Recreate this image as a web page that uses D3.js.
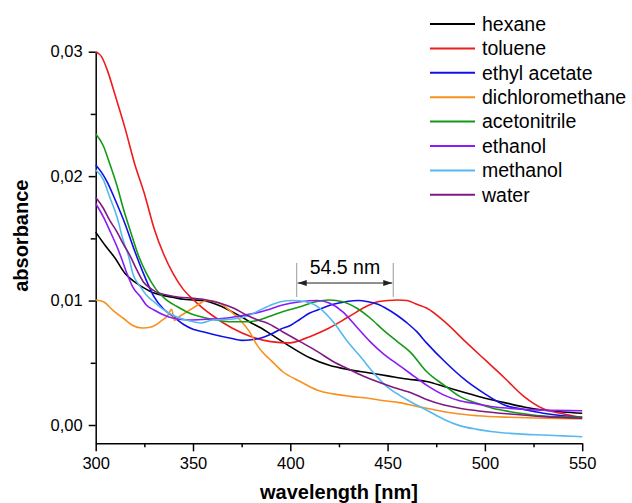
<!DOCTYPE html>
<html lang="en">
<head>
<meta charset="utf-8">
<title>Absorbance spectra</title>
<script src="https://d3js.org/d3.v7.min.js"></script>
<style>
    body {
        margin: 0;
        background: white;
    }

    svg text {
        font-family: "Liberation Sans", Arial, sans-serif;
        fill: black;
    }

    .axis path,
    .axis line {
        stroke: black;
        stroke-width: 1.5;
    }

    .axis text {
        font-size: 16.5px;
    }

    .title {
        font-size: 20px;
        font-weight: bold;
    }
</style>
</head>
<body>
<div id="chart"></div>
<script>
    // absorbance vs wavelength
    var solvents = ["hexane", "toluene", "ethyl acetate", "dichloromethane", "acetonitrile", "ethanol", "methanol", "water"];
    var colors = ["#000000", "#ee1c1c", "#1010e8", "#f7901e", "#159a15", "#8a1cf5", "#55b9ef", "#801a80"];

    var hexane = [[300, .0155], [305, .0144], [310, .0134], [315, .0122], [320, .0115], [325, .0110], [330, .0106],
        [335, .0104], [340, .01025], [345, .0101], [350, .01005], [355, .0100], [360, .0098], [365, .0095], [370, .0091],
        [375, .0087], [380, .0082], [385, .0078], [390, .0073], [400, .0063], [410, .0054], [420, .0048], [430, .00445],
        [440, .0042], [450, .00395], [460, .0037], [470, .0035], [480, .00305], [490, .0026], [500, .00215], [510, .0018],
        [520, .00145], [530, .0012], [540, .00105], [550, .00094]];

    var toluene = [[300, .0300], [303, .0296], [306, .0285], [310, .0265], [315, .0239], [320, .0210], [325, .0186],
        [330, .0158], [335, .0137], [340, .0121], [345, .0109], [350, .0101], [355, .0094], [360, .0088], [370, .0078],
        [380, .0071], [390, .0067], [400, .0066], [405, .0068], [410, .0071], [420, .0078], [430, .0087], [440, .0096],
        [445, .0099], [450, .0100], [455, .01005], [460, .0100], [465, .0097], [470, .0094], [480, .0082], [490, .0067],
        [500, .00525], [510, .0038], [520, .0023], [530, .0013], [540, .0009], [550, .0006]];

    var ethylAcetate = [[300, .0209], [303, .0203], [306, .0195], [310, .0181], [315, .0162], [320, .0140], [325, .0120],
        [330, .0103], [335, .0093], [340, .0087], [345, .0081], [350, .0077], [355, .0075], [360, .0073], [370, .00695],
        [375, .0068], [380, .00685], [385, .0070], [390, .0073], [395, .0077], [400, .0080], [405, .0085], [410, .0090],
        [415, .0093], [420, .0096], [425, .0098], [430, .00995], [435, .0100], [440, .0099], [445, .0097], [450, .0093],
        [455, .0088], [460, .0082], [465, .0075], [470, .0066], [480, .0050], [490, .0036], [500, .0025], [510, .0016],
        [520, .00125], [530, .00095], [540, .00075], [550, .00062]];

    var dichloromethane = [[300, .01005], [304, .0099], [309, .0092], [314, .0086], [319, .0080], [324, .0078],
        [329, .0079], [334, .0084], [337, .0088], [339, .0093], [340.5, .0084], [342, .0086], [347, .0091], [352, .0096],
        [357, .0100], [362, .0099], [369, .0092], [375, .0083], [379, .0075], [383, .0064], [386, .0058], [390, .0052],
        [396, .0043], [405, .0035], [414, .0028], [422, .0025], [431, .0023], [440, .00215], [448, .00195], [456, .0018],
        [465, .0015], [470, .00135], [479, .00107], [487, .00088], [496, .00075], [513, .00062], [530, .00054],
        [550, .00048]];

    var acetonitrile = [[300, .0234], [304, .0224], [307, .0211], [311, .0192], [314, .0175], [318, .0155], [322, .0136],
        [326, .0122], [331, .0109], [336, .0101], [342, .0095], [348, .0090], [355, .00866], [362, .00844], [370, .0083],
        [378, .0083], [384, .00844], [388, .00866], [396, .0091], [405, .0095], [413, .0099], [420, .01005], [427, .0099],
        [434, .0094], [441, .0086], [448, .0076], [455, .0067], [462, .0058], [470, .0043], [479, .0032], [487, .0023],
        [496, .00174], [504, .00134], [513, .00107], [521, .00088], [530, .00072], [550, .00062]];

    var ethanol = [[300, .0178], [304, .0167], [307, .0157], [311, .0143], [313, .0135], [316, .0122], [319, .0111],
        [323, .0103], [326, .00965], [330, .00924], [335, .00884], [340, .00858], [348, .00844], [357, .0085],
        [366, .00858], [374, .00876], [383, .00903], [388, .00924], [396, .00965], [405, .0099], [414, .0100],
        [420, .0098], [427, .0091], [434, .0079], [441, .0067], [448, .0057], [455, .0049], [462, .0041], [470, .0032],
        [479, .0024], [487, .00195], [496, .0017], [504, .00147], [513, .00134], [530, .0012], [550, .00115]];

    var methanol = [[300, .0205], [304, .0197], [307, .0184], [311, .0167], [314, .0149], [317, .0135], [319, .0122],
        [323, .0111], [326, .01045], [330, .0099], [333, .0095], [336.5, .0091], [342, .00866], [348, .00838],
        [354, .0082], [360, .00844], [369, .0085], [378, .00876], [384, .0092], [388, .0095], [395, .0099], [401, .0100],
        [408, .0099], [415, .0094], [422, .0083], [429, .0068], [436, .0055], [443, .00415], [449.5, .0031], [456, .0024],
        [462, .00185], [470, .0012], [479, .00045], [487, -.00005], [496, -.00035], [504, -.00054], [513, -.00067],
        [521, -.00075], [530, -.0008], [540, -.00087], [550, -.00094]];

    var water = [[300, .0183], [304, .0174], [307, .0165], [311, .0155], [314, .0146], [318, .0135], [321, .0125],
        [324.5, .0115], [328, .0110], [331, .0107], [336.5, .01045], [343, .01027], [350, .01019], [357, .01005],
        [364, .00978], [371, .00938], [378, .0088], [384, .0084], [388, .0082], [396, .0075], [405, .0067], [414, .0059],
        [422, .0051], [431, .00442], [439, .00383], [448, .0033], [456, .00287], [462, .0026], [470, .00205],
        [479, .0016], [487, .00134], [496, .00115], [513, .00088], [530, .00067], [550, .00054]];

    var series = [hexane, toluene, ethylAcetate, dichloromethane, acetonitrile, ethanol, methanol, water];

    var xMajor = [300, 350, 400, 450, 500, 550];
    var xMinor = [325, 375, 425, 475, 525];
    var yMajor = [0, 0.01, 0.02, 0.03];
    var yMinor = [0.005, 0.015, 0.025];

    // shift between methanol and toluene maxima
    var shiftFrom = 403.3, shiftTo = 452.9, shiftLabel = "54.5 nm";

    var margin = { top: 51.7, right: 49.8, bottom: 59.7, left: 95.7 },
        width = 632 - margin.left - margin.right,
        height = 503 - margin.top - margin.bottom;

    var svg = d3.select("#chart")
        .append("svg")
        .attr("width", width + margin.left + margin.right)
        .attr("height", height + margin.top + margin.bottom)
        .append("g")
        .attr("transform", "translate(" + margin.left + "," + margin.top + ")");

    var x = d3.scaleLinear().domain([300, 550]).range([0, width]);
    var y = d3.scaleLinear().domain([-0.00147, 0.03]).range([height, 0]);

    var comma = d3.formatLocale({ decimal: ",", thousands: ".", grouping: [3], currency: ["", ""] }).format(".2f");

    // axes
    svg.append("g")
        .attr("class", "axis")
        .attr("transform", "translate(0," + height + ")")
        .call(d3.axisBottom(x).tickValues(xMajor).tickSize(8).tickSizeOuter(0).tickPadding(6).tickFormat(d3.format("d")));
    svg.append("g")
        .attr("class", "axis")
        .attr("transform", "translate(0," + height + ")")
        .call(d3.axisBottom(x).tickValues(xMinor).tickSize(4).tickSizeOuter(0).tickFormat(""))
        .select(".domain").remove();

    svg.append("g")
        .attr("class", "axis")
        .call(d3.axisLeft(y).tickValues(yMajor).tickSize(7).tickSizeOuter(0).tickPadding(6).tickFormat(comma));
    svg.append("g")
        .attr("class", "axis")
        .call(d3.axisLeft(y).tickValues(yMinor).tickSize(5).tickSizeOuter(0).tickFormat(""))
        .select(".domain").remove();

    svg.append("text")
        .attr("class", "title")
        .attr("x", width / 2)
        .attr("y", height + 56)
        .style("text-anchor", "middle")
        .text("wavelength [nm]");
    svg.append("text")
        .attr("class", "title")
        .attr("transform", "rotate(-90)")
        .attr("x", -184)
        .attr("y", -67.5)
        .style("text-anchor", "middle")
        .text("absorbance");

    // spectra
    var line = d3.line()
        .x(function (d) { return x(d[0]); })
        .y(function (d) { return y(d[1]); })
        .curve(d3.curveMonotoneX);

    svg.selectAll(".spectrum")
        .data(series)
        .enter()
        .append("path")
        .attr("class", "spectrum")
        .attr("d", line)
        .attr("fill", "none")
        .attr("stroke", function (d, i) { return colors[i]; })
        .attr("stroke-width", 1.6);

    // 54.5 nm annotation
    svg.append("defs").append("marker")
        .attr("id", "head")
        .attr("markerUnits", "userSpaceOnUse")
        .attr("markerWidth", 10)
        .attr("markerHeight", 6)
        .attr("refX", 9)
        .attr("refY", 3)
        .attr("orient", "auto-start-reverse")
        .append("path")
        .attr("d", "M0,0L9,3L0,6Z")
        .attr("fill", "#222");

    [shiftFrom, shiftTo].forEach(function (w) {
        svg.append("line")
            .attr("x1", x(w)).attr("x2", x(w))
            .attr("y1", y(0.01302)).attr("y2", y(0.01029))
            .attr("stroke", "#999")
            .attr("stroke-width", 1);
    });
    svg.append("line")
        .attr("x1", x(shiftFrom) + 1).attr("x2", x(shiftTo) - 1)
        .attr("y1", y(0.01141)).attr("y2", y(0.01141))
        .attr("stroke", "#222")
        .attr("stroke-width", 1)
        .attr("marker-start", "url(#head)")
        .attr("marker-end", "url(#head)");
    svg.append("text")
        .attr("x", (x(shiftFrom) + x(shiftTo)) / 2)
        .attr("y", y(0.01214))
        .style("text-anchor", "middle")
        .style("font-size", "19.5px")
        .text(shiftLabel);

    // legend
    var legend = svg.append("g")
        .attr("transform", "translate(" + (430 - margin.left) + "," + (24 - margin.top) + ")");
    var rows = legend.selectAll("g")
        .data(solvents)
        .enter()
        .append("g")
        .attr("transform", function (d, i) { return "translate(0," + i * 24.4 + ")"; });
    rows.append("line")
        .attr("x1", 0).attr("x2", 45)
        .attr("stroke", function (d, i) { return colors[i]; })
        .attr("stroke-width", 2);
    rows.append("text")
        .attr("x", 52)
        .attr("dy", "0.35em")
        .style("font-size", "19.5px")
        .text(function (d) { return d; });
</script>
</body>
</html>
